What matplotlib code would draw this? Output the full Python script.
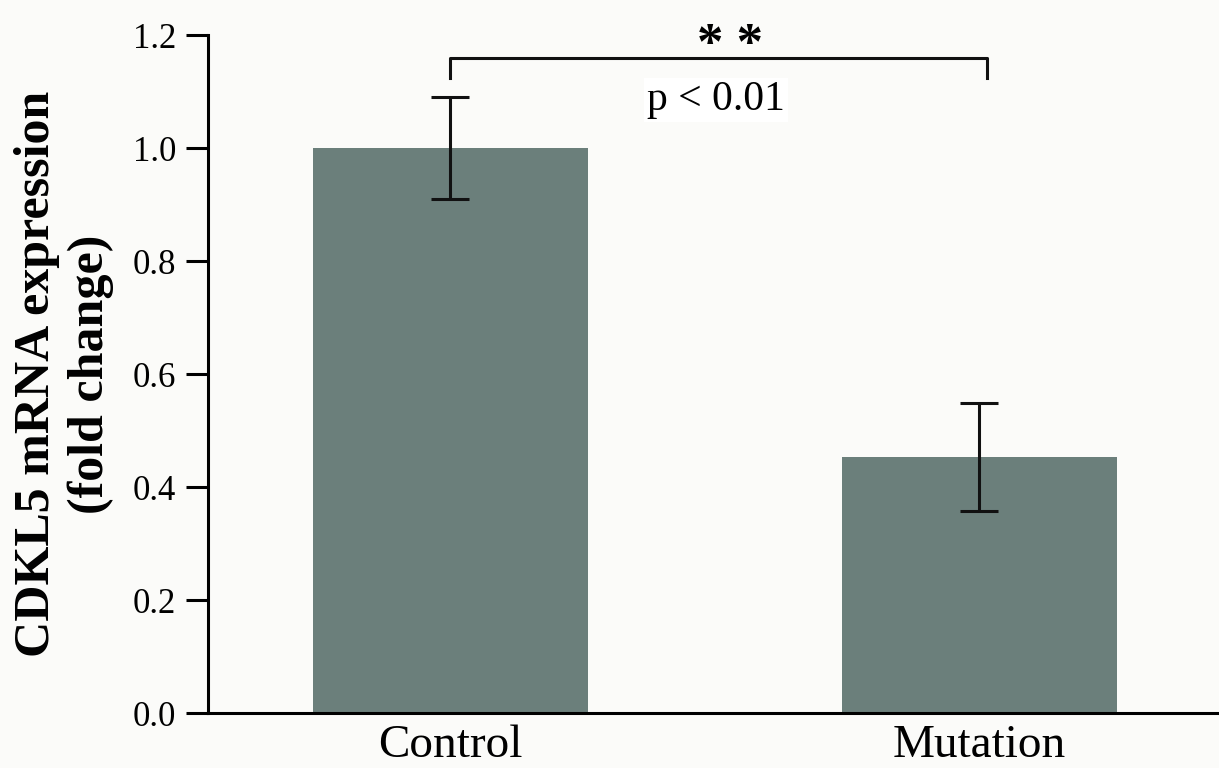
import numpy as np
import matplotlib
matplotlib.use("Agg")
import matplotlib.pyplot as plt

# DATA
groups = ["Control", "Mutation"]
fold_change = [1.0, 0.453]
errors = [0.091, 0.095]
y_ticks = [0.0, 0.2, 0.4, 0.6, 0.8, 1.0, 1.2]

bg = "#fbfbf9"
bar_color = "#6b7f7b"

plt.rcParams["font.family"] = ["Liberation Serif", "DejaVu Serif"]

fig = plt.figure(figsize=(12.19, 7.68), dpi=100, facecolor=bg)
ax = fig.add_axes([0.1706, 0.0716, 0.8294, 0.8828], facecolor=bg)

x = np.arange(len(groups))
ax.bar(x, fold_change, width=0.52, color=bar_color, zorder=2)
ax.errorbar(x, fold_change, yerr=errors, fmt="none", ecolor="#111111",
            elinewidth=2.2, capsize=13.5, capthick=2.2, zorder=3)

ax.set_xlim(-0.458, 1.453)
ax.set_ylim(0, 1.2)
ax.set_yticks(y_ticks)
ax.set_yticklabels([f"{t:.1f}" for t in y_ticks], fontsize=25)
ax.set_xticks(x)
ax.set_xticklabels(groups, fontsize=34)

for s in ["top", "right"]:
    ax.spines[s].set_visible(False)
ax.spines["left"].set_linewidth(2.2)
ax.spines["bottom"].set_linewidth(2.2)
ax.spines["left"].set_bounds(0, 1.2)
ax.tick_params(axis="y", length=16, width=2.2, pad=7, direction="out")
ax.tick_params(axis="x", length=0, pad=8)

fig.text(64 / 1219, 1 - 374 / 768, "CDKL5 mRNA expression\n(fold change)",
         rotation=90, ha="center", va="center", fontsize=36,
         fontweight="bold", linespacing=1.2)

# significance bracket
yb, yd = 1.159, 1.124
x0, x1 = x[0], x[1] + 0.015
ax.plot([x0, x0, x1, x1], [yd, yb, yb, yd], color="#111111", lw=2.2,
        clip_on=False, zorder=4)
ax.text(0.528, 1.18, "* *", ha="center", va="center", fontsize=38,
        fontweight="bold", clip_on=False)
ax.text(0.502, 1.085, "p < 0.01", ha="center", va="center", fontsize=30,
        bbox=dict(facecolor="white", edgecolor="none", pad=2))

fig.savefig("out.png", dpi=100, facecolor=bg)
